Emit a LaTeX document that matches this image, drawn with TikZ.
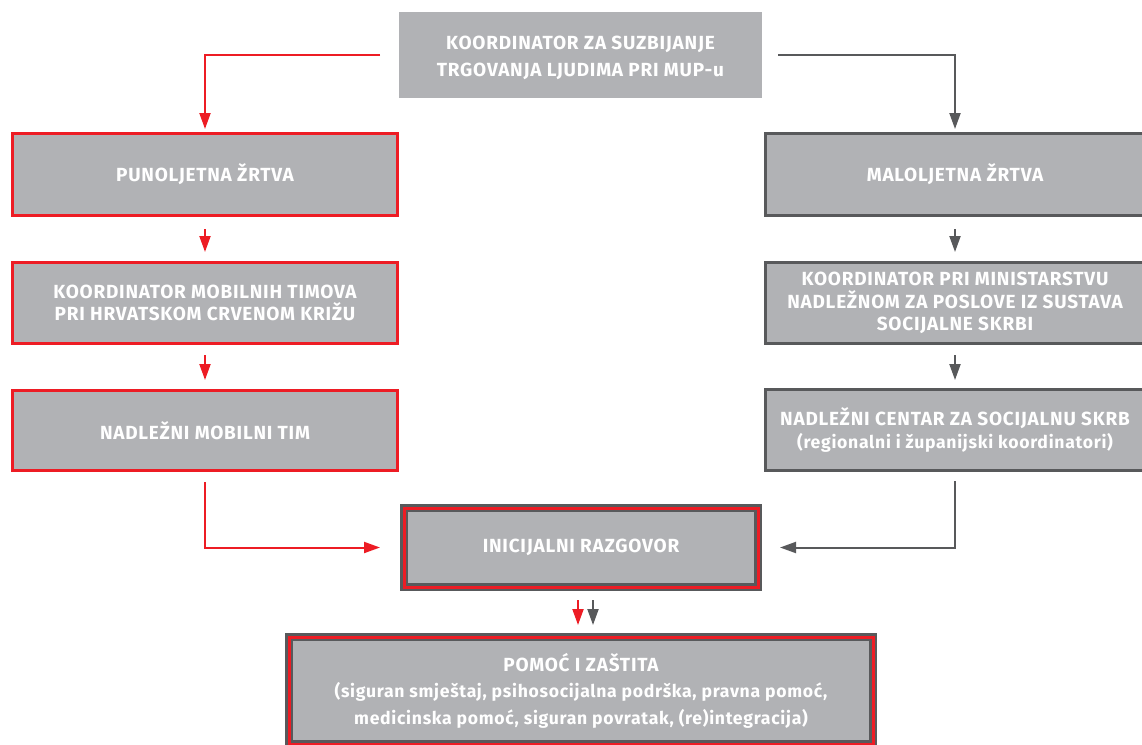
\documentclass[tikz,border=0pt]{standalone}
\usepackage{fontspec}
\setmainfont{Fira Sans}[LetterSpace=4]
\usetikzlibrary{arrows.meta}
\definecolor{boxgray}{HTML}{B1B2B5}
\definecolor{dgray}{HTML}{58595B}
\definecolor{lred}{HTML}{ED1C24}
\newcommand{\lowtxt}{\fontsize{17.6}{22.5}\selectfont}
\tikzset{
  boxbase/.style={fill=boxgray, text=white, align=center, inner sep=0pt, outer sep=0pt,
    font=\bfseries\fontsize{19}{22.5}\selectfont},
  redbox/.style={boxbase, draw=lred, line width=3pt},
  graybox/.style={boxbase, draw=dgray, line width=3pt},
  topbox/.style={boxbase, font=\bfseries\fontsize{19}{27}\selectfont},
  triplebox/.style={boxbase, draw=dgray, line width=2.5pt, double=lred, double distance=3pt},
  redarrow/.style={draw=lred, line width=2pt, -{Triangle[width=11pt,length=16pt]}},
  grayarrow/.style={draw=dgray, line width=2pt, -{Triangle[width=11pt,length=16pt]}},
}
\begin{document}
\begin{tikzpicture}[x=1pt,y=-1pt]
\useasboundingbox (0,0) rectangle (1142,744);
\clip (0,0) rectangle (1142,744);
\fill[white] (0,0) rectangle (1142,744);

\node[topbox, minimum width=363pt, minimum height=86pt] (top) at (580.5,55)
  {\rule{0pt}{19pt}KOORDINATOR ZA SUZBIJANJE\\TRGOVANJA LJUDIMA PRI MUP-u};

\node[redbox, minimum width=385pt, minimum height=82pt] (p1) at (205,174.5) {PUNOLJETNA ŽRTVA};
\node[redbox, minimum width=385pt, minimum height=81pt] (p2) at (205,303) {KOORDINATOR MOBILNIH TIMOVA\\PRI HRVATSKOM CRVENOM KRIŽU};
\node[redbox, minimum width=385pt, minimum height=80pt] (p3) at (205,430.5) {NADLEŽNI MOBILNI TIM};

\node[graybox, minimum width=379pt, minimum height=82pt] (m1) at (955,174.5) {MALOLJETNA ŽRTVA};
\node[graybox, minimum width=379pt, minimum height=81pt] (m2) at (955,303) {KOORDINATOR PRI MINISTARSTVU\\NADLEŽNOM ZA POSLOVE IZ SUSTAVA\\SOCIJALNE SKRBI};
\node[graybox, minimum width=379pt, minimum height=81pt] (m3) at (955,430) {NADLEŽNI CENTAR ZA SOCIJALNU SKRB\\{\lowtxt (regionalni i županijski koordinatori)}};

\node[triplebox, minimum width=354pt, minimum height=79pt] (ini) at (581,547.5) {INICIJALNI RAZGOVOR};
\node[triplebox, minimum width=584pt, minimum height=107pt, font=\bfseries\fontsize{19}{26.5}\selectfont] (pom) at (581,690.5)
  {POMOĆ I ZAŠTITA\\{\lowtxt (siguran smještaj, psihosocijalna podrška, pravna pomoć,}\\{\lowtxt medicinska pomoć, siguran povratak, (re)integracija)}};

% connectors
\draw[redarrow, shorten <=19pt, shorten >=4.5pt] (top.west) -| (p1.north);
\draw[grayarrow, shorten <=16pt, shorten >=4.5pt] (top.east) -| (m1.north);

\draw[redarrow, shorten <=13.5pt, shorten >=10.5pt] (p1.south) -- (p2.north);
\draw[redarrow, shorten <=11.5pt, shorten >=10.5pt] (p2.south) -- (p3.north);
\draw[grayarrow, shorten <=13.5pt, shorten >=10.5pt] (m1.south) -- (m2.north);
\draw[grayarrow, shorten <=11.5pt, shorten >=9.5pt] (m2.south) -- (m3.north);

\draw[redarrow, shorten <=11.5pt, shorten >=24pt] (p3.south) |- (ini.west);
\draw[grayarrow, shorten <=10.5pt, shorten >=22pt] (m3.south) |- (ini.east);

\draw[redarrow, shorten <=13pt, shorten >=12pt] ([xshift=-3pt]ini.south) -- ([xshift=-3pt]pom.north);
\draw[grayarrow, shorten <=13pt, shorten >=12pt] ([xshift=12pt]ini.south) -- ([xshift=12pt]pom.north);
\end{tikzpicture}
\end{document}
